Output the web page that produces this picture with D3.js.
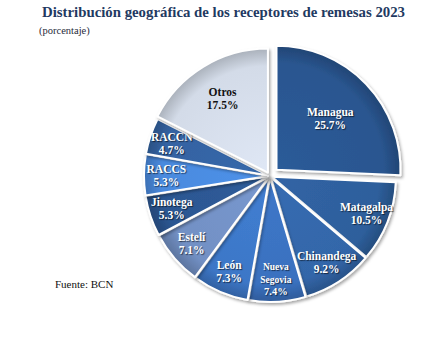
<!DOCTYPE html>
<html><head><meta charset="utf-8">
<script src="https://cdn.jsdelivr.net/npm/d3@7"></script>
<style>body{margin:0;background:#fff}svg{display:block}text{font-family:'Liberation Serif','Times New Roman',serif}</style>
</head><body>
<script>
const categories = ["Managua","Matagalpa","Chinandega","Nueva Segovia","León","Estelí","Jinotega","RACCS","RACCN","Otros"];
const values = [25.7,10.5,9.2,7.4,7.3,7.1,5.3,5.3,4.7,17.5];
const colors = ["#2a5690","#2e5f9c","#3366a9","#3a71bf","#3d77c7","#7290c4","#2c5792","#4a8ade","#3463a2","#d3dbe8"];
const explode = [9,2,2,2,2,2,2,2,2,4];
const title = "Distribución geográfica de los receptores de remesas 2023";
const subtitle = "(porcentaje)";
const source = "Fuente: BCN";

const W=438,H=355, cx=270, cy=176, r=124;
const svg=d3.select("body").append("svg").attr("width",W).attr("height",H);
const defs=svg.append("defs");
colors.forEach((c,i)=>{
  const g=defs.append("radialGradient").attr("id","g"+i).attr("gradientUnits","userSpaceOnUse")
    .attr("cx",0).attr("cy",0).attr("r",r);
  const base=d3.color(c);
  g.append("stop").attr("offset","0%").attr("stop-color",base.brighter(0.15));
  g.append("stop").attr("offset","86%").attr("stop-color",c);
  g.append("stop").attr("offset","100%").attr("stop-color",base.darker(0.6));
});
const sh=defs.append("filter").attr("id","sh").attr("x","-20%").attr("y","-20%").attr("width","140%").attr("height","140%");
sh.append("feDropShadow").attr("dx",1.5).attr("dy",2).attr("stdDeviation",1.5).attr("flood-color","#000").attr("flood-opacity",0.35);

svg.append("text").attr("x",42).attr("y",17).text(title)
  .attr("font-weight","bold").attr("font-size",15.5)
  .attr("fill","#1f3a62").attr("textLength",363).attr("lengthAdjust","spacingAndGlyphs");
svg.append("text").attr("x",39).attr("y",34).text(subtitle)
  .attr("font-size",10.5).attr("fill","#1f2a3a");
svg.append("text").attr("x",55).attr("y",288).text(source)
  .attr("font-size",11).attr("fill","#111");

const pie=d3.pie().sort(null).value(d=>d).startAngle(0).endAngle(2*Math.PI);
const arcs=pie(values);
const arc=d3.arc().innerRadius(0).outerRadius(r);
const g=svg.append("g").attr("transform",`translate(${cx},${cy})`);
const sl=g.selectAll("g.s").data(arcs).join("g").attr("class","s")
  .attr("transform",(d,i)=>{const a=(d.startAngle+d.endAngle)/2;return `translate(${explode[i]*Math.sin(a)},${-explode[i]*Math.cos(a)})`;});
sl.append("path").attr("d",arc).attr("fill",(d,i)=>`url(#g${i})`)
  .attr("stroke","#fff").attr("stroke-width",2).attr("stroke-linejoin","round").attr("filter","url(#sh)");

sl.each(function(d,i){
  const a=(d.startAngle+d.endAngle)/2;
  const f = values[i]>20 ? 0.6 : values[i]>15 ? 0.7 : 0.82;
  const lx=r*f*Math.sin(a), ly=-r*f*Math.cos(a);
  const name=categories[i];
  const lines = name.includes(" ") ? name.split(" ") : [name];
  lines.push(values[i].toFixed(1)+"%");
  const small = lines.length>2;
  const fs = small?9.5:11.5, lh = small?12.5:13;
  const t=d3.select(this).append("text").attr("text-anchor","middle")
    .attr("font-weight","bold").attr("font-size",fs)
    .attr("fill", i===9?"#111":"#fff")
    .attr("style", i===9?"":"text-shadow:1px 1px 1px rgba(0,0,0,0.6)");
  const y0 = ly - (lines.length-1)*lh/2 + fs*0.35;
  lines.forEach((s,k)=>t.append("tspan").attr("x",lx).attr("y",y0+k*lh).attr("font-size", (small&&k===lines.length-1)?10.5:fs).text(s));
});
</script>
</body></html>
